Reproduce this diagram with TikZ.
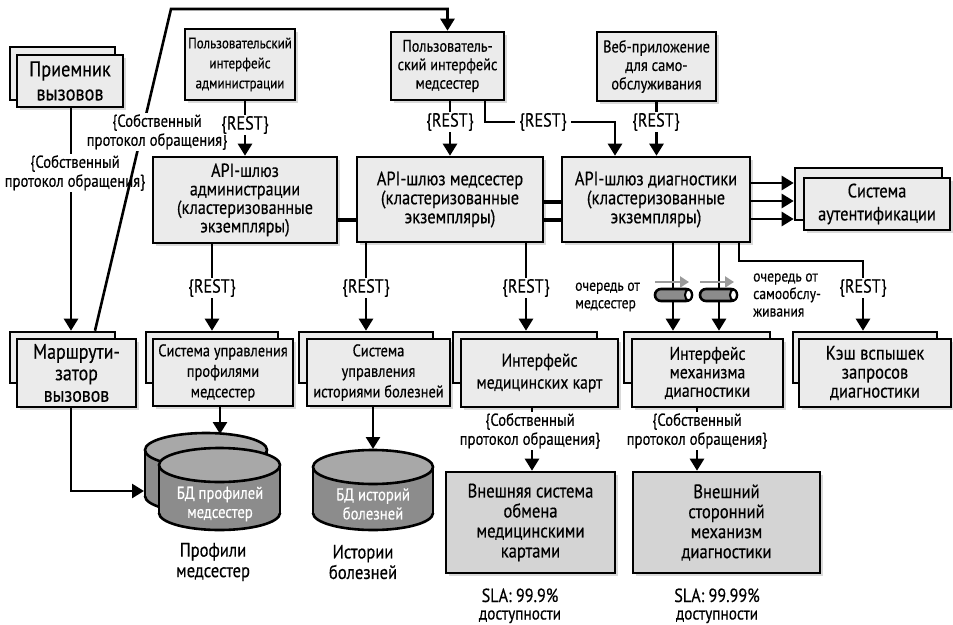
\documentclass[tikz,border=0pt]{standalone}
\usepackage{fontspec}
\setmainfont{PT Sans}[FakeStretch=0.85,FakeBold=0.4]
\usetikzlibrary{arrows.meta,shadows,calc}
\definecolor{boxg}{HTML}{EBEBEB}
\definecolor{extg}{HTML}{D4D4D4}
\definecolor{dbbody}{HTML}{8C8C8C}
\definecolor{dbtopc}{HTML}{A8A8A8}
\definecolor{qgray}{HTML}{9A9A9A}
\begin{document}
\begin{tikzpicture}[x=1pt,y=-1pt,
  lw/.style={line width=2.6pt},
  box/.style={draw, lw, fill=boxg, align=center, inner sep=0pt,
    drop shadow={shadow xshift=3pt,shadow yshift=-3pt,opacity=0.3}},
  backbox/.style={draw, lw, fill=boxg, inner sep=0pt},
  extbox/.style={box, fill=extg},
  arr/.style={lw, -{Triangle[length=12pt,width=14pt]}},
  link/.style={line width=3.8pt},
  lbl/.style={fill=white, inner sep=1pt, align=center, font=\fontsize{17.3}{19}\selectfont},
  rest/.style={lbl, font=\fontsize{19}{19}\selectfont},
  qlbl/.style={inner sep=0pt, align=left, anchor=west, font=\fontsize{16}{17.5}\selectfont},
  dbline/.style={line width=2.6pt},
]
\useasboundingbox (0,0) rectangle (953,624);

% ---- top row ----
\node[backbox, minimum width=105, minimum height=53] (recvB) at (62.5,73.5) {};
\node[box, font=\fontsize{21.5}{24}\selectfont, minimum width=106, minimum height=52] (recv) at (70,81) {Приемник\\вызовов};
\node[box, font=\fontsize{15.3}{20}\selectfont, minimum width=110, minimum height=71] (adminui) at (240,64.5) {Пользовательский\\интерфейс\\администрации};
\node[box, font=\fontsize{16.8}{18.5}\selectfont, minimum width=113, minimum height=68] (nurseui) at (447.5,66) {Пользователь-\\ский интерфейс\\медсестер};
\node[box, font=\fontsize{17}{18.5}\selectfont, minimum width=119, minimum height=69] (webapp) at (656.5,66.5) {Веб-приложение\\для само-\\обслуживания};

% ---- gateways ----
\node[box, font=\fontsize{19}{18.5}\selectfont, minimum width=184, minimum height=86] (gwadmin) at (245,200) {API-шлюз\\администрации\\(кластеризованные\\экземпляры)};
\node[box, font=\fontsize{19.3}{19}\selectfont, minimum width=186, minimum height=85] (gwnurse) at (450,199.5) {API-шлюз медсестер\\(кластеризованные\\экземпляры)};
\node[box, font=\fontsize{19.3}{19}\selectfont, minimum width=188, minimum height=85] (gwdiag) at (656,199.5) {API-шлюз диагностики\\(кластеризованные\\экземпляры)};
\node[backbox, minimum width=147, minimum height=52] (authB) at (868.5,194) {};
\node[box, font=\fontsize{19.3}{23}\selectfont, minimum width=146, minimum height=52] (auth) at (877,204) {Система\\аутентификации};

% ---- middle row ----
\node[backbox, minimum width=105, minimum height=51] (routerB) at (62.5,357.5) {};
\node[box, font=\fontsize{21}{21.5}\selectfont, minimum width=119, minimum height=68] (router) at (76.5,373) {Маршрути-\\затор\\вызовов};
\node[backbox, minimum width=132, minimum height=51] (profB) at (212,357.5) {};
\node[box, font=\fontsize{17}{20.5}\selectfont, minimum width=140, minimum height=67] (prof) at (223,372.5) {Система управления\\профилями\\медсестер};
\node[backbox, minimum width=134, minimum height=51] (histB) at (366,357.5) {};
\node[box, font=\fontsize{17}{20.5}\selectfont, minimum width=143, minimum height=67] (hist) at (378.5,372.5) {Система\\управления\\историями болезней};
\node[backbox, minimum width=144, minimum height=51] (medB) at (525,357.5) {};
\node[box, font=\fontsize{18.5}{22}\selectfont, minimum width=157, minimum height=68] (medc) at (539.5,373) {Интерфейс\\медицинских карт};
\node[backbox, minimum width=146, minimum height=51] (diagB) at (697,357.5) {};
\node[box, font=\fontsize{18.5}{18.5}\selectfont, minimum width=151, minimum height=68] (diagif) at (707.5,373) {Интерфейс\\механизма\\диагностики};
\node[backbox, minimum width=144, minimum height=51] (cacheB) at (865,357.5) {};
\node[box, font=\fontsize{19.5}{19}\selectfont, minimum width=152, minimum height=68] (cache) at (875,373) {Кэш вспышек\\запросов\\диагностики};

% ---- external ----
\node[extbox, font=\fontsize{19.5}{20}\selectfont, minimum width=169, minimum height=101] (extmed) at (530.5,522.5) {Внешняя система\\обмена\\медицинскими\\картами};
\node[extbox, font=\fontsize{19.5}{20}\selectfont, minimum width=187, minimum height=101] (extdiag) at (726.5,522.5) {Внешний\\сторонний\\механизм\\диагностики};

% ---- databases ----
% back cylinder
\fill[dbbody] (145,450) rectangle (267,496);
\fill[dbbody] (206,496) ellipse[x radius=61,y radius=17];
\begin{scope}\clip (130,496) rectangle (290,530);\draw[dbline] (206,496) ellipse[x radius=61,y radius=17];\end{scope}
\draw[dbline] (145,450)--(145,496) (267,450)--(267,496);
\filldraw[dbline, fill=dbtopc] (206,450) ellipse[x radius=61,y radius=17];
% front cylinder
\fill[dbbody] (159,465) rectangle (280,513);
\fill[dbbody] (219.5,513) ellipse[x radius=60.5,y radius=17];
\begin{scope}\clip (140,513) rectangle (300,545);\draw[dbline] (219.5,513) ellipse[x radius=60.5,y radius=17];\end{scope}
\draw[dbline] (159,465)--(159,513) (280,465)--(280,513);
\filldraw[dbline, fill=dbtopc] (219.5,465) ellipse[x radius=60.5,y radius=17];
\node[text=white, align=center, font=\fontsize{17.3}{19}\selectfont] (db1) at (220,504) {БД профилей\\медсестер};
\coordinate (db1top) at (220,434);
\coordinate (db1left) at (144,491);
% second db
\fill[dbbody] (313,467) rectangle (433,513);
\fill[dbbody] (373,513) ellipse[x radius=60,y radius=17];
\begin{scope}\clip (300,513) rectangle (450,545);\draw[dbline] (373,513) ellipse[x radius=60,y radius=17];\end{scope}
\draw[dbline] (313,467)--(313,513) (433,467)--(433,513);
\filldraw[dbline, fill=dbtopc] (373,467) ellipse[x radius=60,y radius=17];
\node[text=white, align=center, font=\fontsize{17.3}{19}\selectfont] (db2) at (373,504) {БД историй\\болезней};
\coordinate (db2top) at (373,449);

\node[align=center, font=\fontsize{19.5}{20.5}\selectfont] (db1lbl) at (213,562) {Профили\\медсестер};
\node[align=center, font=\fontsize{19.5}{20.5}\selectfont] (db2lbl) at (363,562) {Истории\\болезней};

% ---- connectors ----
% receiver -> router
\draw[arr] (recv.south -| 71,0) -- (routerB.north -| 71,0);
\node[lbl] (p2) at (75,173) {\{Собственный\\протокол обращения\}};
% router -> nurse UI (top line)
\coordinate (tl) at (171,9);
\draw[arr] (routerB.north -| 95,0) -- (tl) -- (tl -| nurseui.north) -- (nurseui.north);
\node[lbl] (p1) at (157,132) {\{Собственный\\протокол обращения\}};
% UIs -> gateways
\draw[arr] (gwadmin.north |- adminui.south) -- (gwadmin.north);
\node[rest] (r1) at (245,125) {\{REST\}};
\draw[arr] (nurseui.south -| gwnurse.north) -- (gwnurse.north);
\node[rest] (r2) at (450,122) {\{REST\}};
\coordinate (n2d) at (615,122);
\draw[arr] (nurseui.south -| 485,0) |- (n2d) -- (n2d |- gwdiag.north);
\node[rest, inner xsep=4pt] (r3) at (543,122) {\{REST\}};
\draw[arr] (webapp.south) -- (webapp.south |- gwdiag.north);
\node[rest] (r4) at (656,122) {\{REST\}};
% gateway interconnect
\coordinate (yA) at (0,220);
\coordinate (yB) at (0,202);
\draw[link] (gwadmin.east |- yA) -- (gwnurse.west |- yA);
\draw[link] (gwnurse.east |- yB) -- (gwdiag.west |- yB);
\draw[link] (gwnurse.east |- yA) -- (gwdiag.west |- yA);
% diag gateway -> auth
\foreach \yy in {183,201,219}{
  \coordinate (t) at (0,\yy);
  \draw[arr] (gwdiag.east |- t) -- (authB.west |- t);
}
% gateways -> services
\draw[arr] (gwadmin.south -| 212,0) -- (profB.north -| 212,0);
\node[rest] (r5) at (212,288) {\{REST\}};
\draw[arr] (gwnurse.south -| 366,0) -- (histB.north -| 366,0);
\node[rest] (r6) at (366,288) {\{REST\}};
\draw[arr] (gwnurse.south -| 526,0) -- (medB.north -| 526,0);
\node[rest] (r7) at (526,288) {\{REST\}};
\draw[arr] (gwdiag.south -| 673,0) -- (diagB.north -| 673,0);
\draw[arr] (gwdiag.south -| 719,0) -- (diagB.north -| 719,0);
\coordinate (cc) at (863,261);
\draw[arr] (gwdiag.south -| 739,0) |- (cc) -- (cc |- cacheB.north);
\node[rest] (r8) at (863,288) {\{REST\}};
% queues
\foreach \qx in {655,700}{
  \draw[lw, fill=dbbody, rounded corners=6pt] (\qx,289) rectangle ($(\qx,301)+(37,0)$);
  \filldraw[line width=2pt, fill=white] ($(\qx,295)+(33.5,0)$) ellipse[x radius=3.5,y radius=5.5];
  \draw[line width=2.6pt, qgray, -{Triangle[length=9pt,width=11pt]}] (\qx,282) -- ($(\qx,282)+(34,0)$);
}
\node[qlbl] (q1) at (575,297) {очередь от\\медсестер};
\node[qlbl] (q2) at (753,295) {очередь от\\самообслу-\\живания};
% services -> databases
\draw[arr] (prof.south -| db1top) -- (db1top);
\draw[arr] (hist.south -| db2top) -- (db2top);
\draw[arr] (router.south -| 71,0) |- (db1left);
% interfaces -> external
\draw[arr] (medc.south -| 532,0) -- (extmed.north -| 532,0);
\node[lbl] (p3) at (530,431) {\{Собственный\\протокол обращения\}};
\draw[arr] (diagif.south -| 697,0) -- (extdiag.north -| 697,0);
\node[lbl] (p4) at (697,431) {\{Собственный\\протокол обращения\}};
% SLA
\node[anchor=base, inner sep=0pt, font=\fontsize{19}{19}\selectfont] (sla1) at (520,602) {SLA: 99.9\%};
\node[anchor=base, inner sep=0pt, font=\fontsize{18}{18}\selectfont] (sla1b) at (520,619.5) {доступности};
\node[anchor=base, inner sep=0pt, font=\fontsize{19}{19}\selectfont] (sla2) at (717,602) {SLA: 99.99\%};
\node[anchor=base, inner sep=0pt, font=\fontsize{18}{18}\selectfont] (sla2b) at (717,619.5) {доступности};
\end{tikzpicture}
\end{document}
